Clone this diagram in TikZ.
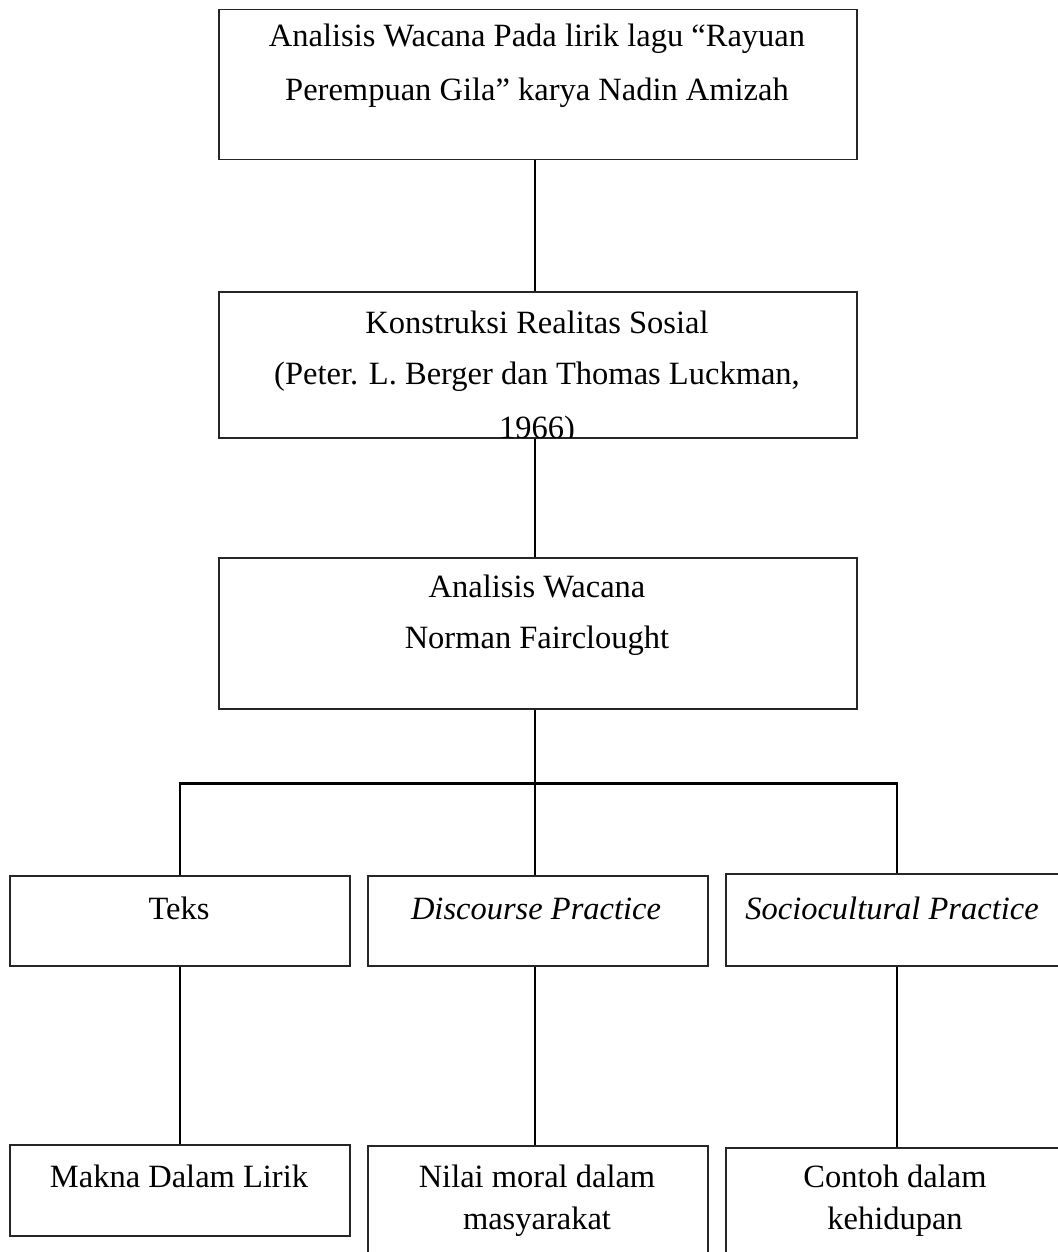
\documentclass[tikz,border=0pt]{standalone}
\usepackage{fontspec}
\setmainfont{Liberation Serif}
\begin{document}
\begin{tikzpicture}[x=1pt,y=-1pt,
  box/.style={draw=black!85, line width=1.5pt, rectangle, anchor=north west, inner sep=0pt},
  lbl/.style={inner sep=0pt, font=\fontsize{32.5}{40}\selectfont, anchor=base},
  conn/.style={draw=black, line width=1.5pt},
  bus/.style={draw=black, line width=3pt}]
\useasboundingbox (0,0) rectangle (1057,1252);
% level boxes
\node[box, minimum width=638pt, minimum height=150pt] (b1) at (218,9) {};
\node[lbl] (t1a) at (537,47) {Analisis Wacana Pada lirik lagu “Rayuan};
\node[lbl] (t1b) at (537,101) {Perempuan Gila” karya Nadin Amizah};

\node[box, minimum width=638pt, minimum height=146pt] (b2) at (218,291) {};
\node[lbl] (t2a) at (537,333) {Konstruksi Realitas Sosial};
\node[lbl] (t2b) at (537,384) {(Peter. L. Berger dan Thomas Luckman,};
\begin{scope}
\clip (218,291) rectangle (856,437);
\node[lbl] (t2c) at (537,438) {1966)};
\end{scope}

\node[box, minimum width=638pt, minimum height=151pt] (b3) at (218,557) {};
\node[lbl] (t3a) at (537,597) {Analisis Wacana};
\node[lbl] (t3b) at (537,648) {Norman Fairclought};

% second row
\node[box, minimum width=340pt, minimum height=90pt] (c1) at (9,875) {};
\node[lbl] (tc1) at (179,919) {Teks};
\node[box, minimum width=340pt, minimum height=90pt] (c2) at (367,875) {};
\node[lbl] (tc2) at (536,919) {\itshape Discourse Practice};
\node[box, minimum width=345pt, minimum height=92pt] (c3) at (725,873) {};
\node[lbl] (tc3) at (892,919) {\itshape Sociocultural Practice};

% third row
\node[box, minimum width=340pt, minimum height=91pt] (d1) at (9,1144) {};
\node[lbl] (td1) at (179,1187) {Makna Dalam Lirik};
\node[box, minimum width=340pt, minimum height=120pt] (d2) at (367,1145) {};
\node[lbl] (td2a) at (537,1187) {Nilai moral dalam};
\node[lbl] (td2b) at (537,1229) {masyarakat};
\node[box, minimum width=345pt, minimum height=120pt] (d3) at (725,1147) {};
\node[lbl] (td3a) at (895,1187) {Contoh dalam};
\node[lbl] (td3b) at (895,1229) {kehidupan};

% connectors
\coordinate (busL) at (180,783);
\coordinate (busM) at (535,783);
\coordinate (busR) at (897,783);
\draw[conn] (b1.south -| busM) -- (b2.north -| busM);
\draw[conn] (b2.south -| busM) -- (b3.north -| busM);
\draw[conn] (b3.south -| busM) -- (busM);
\draw[bus] ([xshift=-0.75pt]busL) -- ([xshift=0.75pt]busR);
\draw[conn] (busL) -- (c1.north -| busL);
\draw[conn] (busM) -- (c2.north -| busM);
\draw[conn] (busR) -- (c3.north -| busR);
\draw[conn] (c1.south -| busL) -- (d1.north -| busL);
\draw[conn] (c2.south -| busM) -- (d2.north -| busM);
\draw[conn] (c3.south -| busR) -- (d3.north -| busR);
\end{tikzpicture}
\end{document}
